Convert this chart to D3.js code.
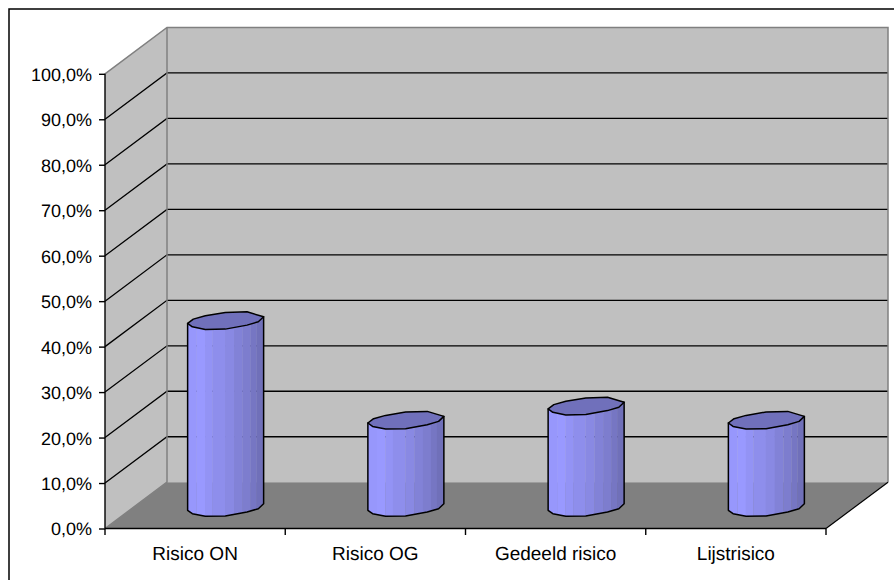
<!DOCTYPE html>
<html><head><meta charset="utf-8">
<style>html,body{margin:0;padding:0;background:#fff;overflow:hidden}text{font-family:"Liberation Sans",Arial,sans-serif;fill:#000;text-rendering:geometricPrecision}</style>
<script src="https://cdn.jsdelivr.net/npm/d3@7/dist/d3.min.js"></script></head>
<body><svg id="chart" width="894" height="580"></svg>
<script>
const categories = ["Risico ON", "Risico OG", "Gedeeld risico", "Lijstrisico"];
const values = [41.1, 19.2, 22.3, 19.2];
const tickValues = [0, 10, 20, 30, 40, 50, 60, 70, 80, 90, 100];

const svg = d3.select("#chart");
const x = d3.scaleBand().domain(categories).range([105, 826]);
const y = d3.scaleLinear().domain([0, 100]).range([528.5, 73.8]);

// Oblique depth of the 3D box, and the depth at which the columns stand
const depth = { dx: 62, dy: -46.3 };
const barDepth = { dx: 30.2, dy: -21 };

const x0 = x.range()[0], x1 = x.range()[1];
const GREY = "#808080";

// Side wall and back wall
svg.append("polygon").attr("fill", "#c0c0c0").attr("points", [
  [x0, y(0)], [x0 + depth.dx, y(0) + depth.dy], [x0 + depth.dx, y(100) + depth.dy], [x0, y(100)]
].join(" "));
svg.append("rect").attr("fill", "#c0c0c0")
  .attr("x", x0 + depth.dx).attr("y", y(100) + depth.dy)
  .attr("width", x1 - x0).attr("height", y(0) - y(100));

// Gridlines run along the side wall, then across the back wall
svg.append("g").attr("stroke", "#000").attr("stroke-width", 1.3).attr("fill", "none")
  .selectAll("path").data(tickValues.filter(t => t > 0 && t < 100))
  .join("path")
  .attr("d", t => `M${x0},${y(t)}L${x0 + depth.dx},${y(t) + depth.dy}H${x1 + depth.dx}`);

// Wall outlines
svg.append("path").attr("fill", "none").attr("stroke", GREY).attr("stroke-width", 1.5)
  .attr("d", `M${x0},${y(100)}L${x0 + depth.dx},${y(100) + depth.dy}H${x1 + depth.dx}V${y(0) + depth.dy}`
    + `M${x0 + depth.dx},${y(100) + depth.dy}V${y(0) + depth.dy}L${x0},${y(0)}`);

// Floor
svg.append("polygon").attr("fill", GREY).attr("points", [
  [x0, y(0)], [x1, y(0)], [x1 + depth.dx, y(0) + depth.dy], [x0 + depth.dx, y(0) + depth.dy]
].join(" "));
svg.append("path").attr("fill", "none").attr("stroke", "#000").attr("stroke-width", 1.2)
  .attr("d", `M${x1},${y(0)}L${x1 + depth.dx},${y(0) + depth.dy}`);

// Faceted cap outline of a column, relative to its centre
const capUpper = [[-37.7, 2.8], [-32, -1.5], [-20, -4.8], [0, -8.2], [21.7, -8.8], [38.3, -3.8]];
const capLower = [[38.3, -3.8], [33, 1.2], [21.7, 4.5], [0, 8.5], [-20, 8.8], [-33, 6.2], [-37.7, 2.8]];
const facets = [
  [-38, "#9797fc"], [-28.7, "#9999ff"], [-20.3, "#9393f5"], [-12.7, "#8e8eec"], [-0.3, "#8989e3"],
  [8.7, "#8282d7"], [17.3, "#7d7dce"], [25.3, "#7676c3"], [31.3, "#7070b9"]
];
const barW = 38.3;
const line = d3.line();
const defs = svg.append("defs");

const bars = svg.append("g").selectAll("g").data(categories).join("g");
bars.each(function (cat, i) {
  const g = d3.select(this);
  const cx = x(cat) + x.bandwidth() / 2 + barDepth.dx;
  const top = y(values[i]) + barDepth.dy;
  const base = y(0) + barDepth.dy;
  const at = (pts, cy) => pts.map(p => [cx + p[0], cy + p[1]]);
  const body = at(capUpper.slice(-1), top).concat(at(capLower, base), at(capUpper.slice(0, 1), top));
  const id = "column-" + i;
  defs.append("clipPath").attr("id", id).append("path").attr("d", line(body) + "Z");
  g.append("g").attr("clip-path", `url(#${id})`).selectAll("rect").data(facets).join("rect")
    .attr("x", d => cx + d[0]).attr("y", top - 12)
    .attr("width", (d, k) => (k + 1 < facets.length ? facets[k + 1][0] : barW + 1) - d[0] + 0.2)
    .attr("height", base - top + 30).attr("fill", d => d[1]);
  g.append("path").attr("d", line(body) + "Z").attr("fill", "none")
    .attr("stroke", "#000").attr("stroke-width", 1.5).attr("stroke-linejoin", "round");
  g.append("path").attr("d", line(at(capUpper.concat(capLower.slice(1)), top)) + "Z")
    .attr("fill", "#7070bb").attr("stroke", "#000").attr("stroke-width", 1.5).attr("stroke-linejoin", "round");
});

// Value axis
const yAxis = svg.append("g").attr("transform", `translate(${x0},0)`)
  .call(d3.axisLeft(y).tickValues(tickValues).tickSize(6).tickPadding(7)
    .tickFormat(d => d.toFixed(1).replace(".", ",") + "%"));
yAxis.selectAll("path,line").attr("stroke", "#000").attr("stroke-width", 1.4);
yAxis.selectAll("text").style("font-size", "18px").attr("dy", "0.36em");
yAxis.select(".domain").attr("d", `M0,${y(100)}V${y(0)}`);

// Category axis: ticks on band edges, labels centred in each band
const xAxisG = svg.append("g");
xAxisG.append("path").attr("stroke", "#000").attr("stroke-width", 1.4).attr("fill", "none")
  .attr("d", `M${x0},${y(0)}H${x1}`);
xAxisG.selectAll("line").data(categories.map(c => x(c)).concat([x1])).join("line")
  .attr("x1", d => d).attr("x2", d => d).attr("y1", y(0)).attr("y2", y(0) + 6.5)
  .attr("stroke", "#000").attr("stroke-width", 1.4);
xAxisG.selectAll("text").data(categories).join("text")
  .attr("x", c => x(c) + x.bandwidth() / 2).attr("y", 559.5)
  .attr("text-anchor", "middle").style("font-size", "19px").text(c => c);

// Chart frame
svg.append("rect").attr("x", 9).attr("y", 9).attr("width", 900).attr("height", 600)
  .attr("fill", "none").attr("stroke", "#000").attr("stroke-width", 1.5);
</script></body></html>
